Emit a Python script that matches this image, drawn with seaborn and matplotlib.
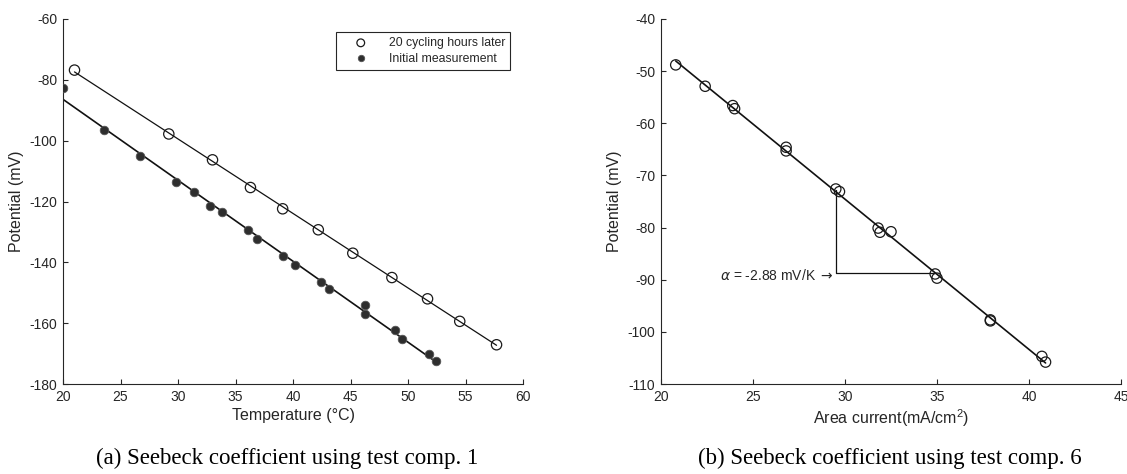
import numpy as np
import pandas as pd
import matplotlib
matplotlib.use("Agg")
import matplotlib.pyplot as plt
import seaborn as sns

# ---------------- data ----------------
# (a) 20 cycling hours later (open circles)
later_T = [21.0, 29.2, 33.0, 36.3, 39.1, 42.2, 45.2, 48.6, 51.7, 54.5, 57.7]
later_V = [-76.8, -97.8, -106.3, -115.4, -122.4, -129.3, -137.0, -145.0, -152.0, -159.4, -167.1]

# (a) initial measurement (filled circles)
init_T = [20.0, 23.6, 26.7, 29.8, 31.4, 32.8, 33.8, 36.1, 36.9, 39.1, 40.2,
          42.4, 43.1, 46.3, 46.3, 48.9, 49.5, 51.8, 52.4]
init_V = [-82.7, -96.4, -105.1, -113.5, -116.8, -121.6, -123.6, -129.5, -132.4,
          -137.8, -140.8, -146.4, -148.8, -154.1, -157.0, -162.1, -165.3, -170.1, -172.3]

# (b) area current vs potential
cur_X = [20.8, 22.4, 23.9, 24.0, 26.8, 26.8, 29.5, 29.7, 31.8, 31.9, 32.5,
         34.9, 35.0, 37.9, 37.9, 40.7, 40.9]
cur_V = [-48.8, -52.9, -56.6, -57.2, -64.6, -65.3, -72.6, -73.1, -80.1, -80.9, -80.8,
         -88.9, -89.7, -97.7, -97.9, -104.7, -105.8]

# slope triangle corner values for (b)
tri_x = [29.5, 29.5, 34.9]
tri_y = [-72.8, -88.8, -88.8]
slope_label = r"$\alpha$ = -2.88 mV/K $\rightarrow$"

labels_a = ["20 cycling hours later", "Initial measurement"]
captions = ["(a) Seebeck coefficient using test comp. 1",
            "(b) Seebeck coefficient using test comp. 6"]

xticks_a = [20, 25, 30, 35, 40, 45, 50, 55, 60]
yticks_a = [-180, -160, -140, -120, -100, -80, -60]
xticks_b = [20, 25, 30, 35, 40, 45]
yticks_b = [-110, -100, -90, -80, -70, -60, -50, -40]

# ---------------- style ----------------
sns.set_theme(style="ticks")
plt.rcParams["font.family"] = ["Liberation Sans", "DejaVu Sans"]
plt.rcParams["axes.unicode_minus"] = False
plt.rcParams["xtick.direction"] = "in"
plt.rcParams["ytick.direction"] = "in"
plt.rcParams["axes.edgecolor"] = "#262626"
plt.rcParams["axes.linewidth"] = 0.8
plt.rcParams["xtick.color"] = "#262626"
plt.rcParams["ytick.color"] = "#262626"
plt.rcParams["xtick.major.size"] = 3.5
plt.rcParams["ytick.major.size"] = 3.5
plt.rcParams["xtick.major.width"] = 0.8
plt.rcParams["ytick.major.width"] = 0.8

fig = plt.figure(figsize=(11.27, 4.74), dpi=100)
W, H = 1127, 474
axA = fig.add_axes([63 / W, (H - 384) / H, 460 / W, 365 / H])
axB = fig.add_axes([661 / W, (H - 384) / H, 460 / W, 365 / H])

dfL = pd.DataFrame({"T": later_T, "V": later_V})
dfI = pd.DataFrame({"T": init_T, "V": init_V})
dfB = pd.DataFrame({"X": cur_X, "V": cur_V})

# ---- (a) ----
sns.regplot(data=dfL, x="T", y="V", ax=axA, scatter=False, ci=None,
            line_kws=dict(color="#111111", lw=0.9))
sns.regplot(data=dfI, x="T", y="V", ax=axA, scatter=False, ci=None,
            line_kws=dict(color="#111111", lw=1.2))
sns.scatterplot(data=dfL, x="T", y="V", ax=axA, marker="o", s=55,
                facecolors="none", edgecolor="#1a1a1a", linewidth=0.9,
                label=labels_a[0], zorder=3)
sns.scatterplot(data=dfI, x="T", y="V", ax=axA, marker="o", s=38,
                color="#2e2e2e", edgecolor="#555555", linewidth=0.6,
                label=labels_a[1], zorder=3)
axA.set_xlim(20, 60)
axA.set_ylim(-180, -60)
axA.set_xticks(xticks_a)
axA.set_yticks(yticks_a)
axA.set_xlabel("Temperature (°C)", fontsize=11.5, color="#262626", labelpad=3)
axA.set_ylabel("Potential (mV)", fontsize=11.5, color="#262626")
leg = axA.legend(loc="upper right", bbox_to_anchor=(0.972, 0.964),
                 borderaxespad=0, fancybox=False, framealpha=1,
                 edgecolor="#262626", fontsize=8.8, handlelength=3.2,
                 handletextpad=0.7, borderpad=0.4, labelspacing=0.3,
                 markerscale=0.75)
leg.get_frame().set_linewidth(0.8)

# ---- (b) ----
sns.regplot(data=dfB, x="X", y="V", ax=axB, scatter=False, ci=None,
            line_kws=dict(color="#111111", lw=1.2))
sns.scatterplot(data=dfB, x="X", y="V", ax=axB, marker="o", s=55,
                facecolors="none", edgecolor="#1a1a1a", linewidth=0.9,
                zorder=3)
axB.plot(tri_x, tri_y, color="#111111", lw=0.9)
axB.text(tri_x[0] - 0.1, tri_y[1] - 0.4, slope_label, ha="right", va="center",
         fontsize=10, color="#262626")
axB.set_xlim(20, 45)
axB.set_ylim(-110, -40)
axB.set_xticks(xticks_b)
axB.set_yticks(yticks_b)
axB.set_xlabel("Area current(mA/cm$^{\\mathregular{2}}$)", fontsize=11.5,
               color="#262626", labelpad=3)
axB.set_ylabel("Potential (mV)", fontsize=11.5, color="#262626")

for ax in (axA, axB):
    sns.despine(ax=ax)
    ax.tick_params(labelsize=10, labelcolor="#262626", pad=4)

# captions
fig.text(287 / W, 1 - 458 / H, captions[0], ha="center", va="center",
         fontsize=16.5, family=["Liberation Serif", "DejaVu Serif"], color="black")
fig.text(890 / W, 1 - 458 / H, captions[1], ha="center", va="center",
         fontsize=16.5, family=["Liberation Serif", "DejaVu Serif"], color="black")

fig.savefig("out.png", dpi=100)
